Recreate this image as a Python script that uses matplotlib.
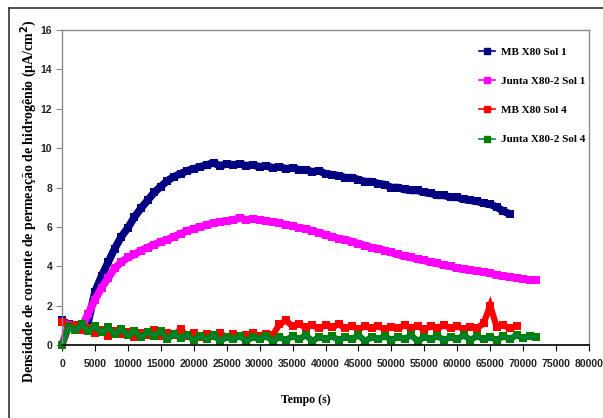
import matplotlib
matplotlib.use("Agg")
import matplotlib.pyplot as plt
from matplotlib.lines import Line2D

# ---------------- data ----------------
t_mb1 = list(range(0, 69000, 1000))
mb1 = [1.25, 1.05, 0.95, 0.85, 1.2, 2.7, 3.5, 4.2, 4.9, 5.5,
       5.95, 6.5, 6.95, 7.35, 7.75, 8.05, 8.35, 8.55, 8.7, 8.85,
       8.95, 9.05, 9.15, 9.25, 9.1, 9.2, 9.15, 9.2, 9.1, 9.15,
       9.05, 9.1, 9.0, 9.05, 8.95, 9.0, 8.9, 8.9, 8.8, 8.85,
       8.7, 8.65, 8.6, 8.5, 8.5, 8.4, 8.3, 8.3, 8.2, 8.15,
       8.0, 8.0, 7.9, 7.85, 7.85, 7.75, 7.7, 7.6, 7.6, 7.5,
       7.5, 7.4, 7.35, 7.3, 7.2, 7.15, 7.0, 6.8, 6.65]

t_j1 = list(range(0, 73000, 1000))
j1 = [0.0, 1.0, 0.8, 0.9, 1.6, 2.3, 2.9, 3.4, 3.9, 4.2,
      4.45, 4.6, 4.8, 4.95, 5.1, 5.25, 5.35, 5.5, 5.65, 5.8,
      5.9, 6.0, 6.1, 6.2, 6.25, 6.3, 6.35, 6.45, 6.35, 6.4,
      6.35, 6.3, 6.25, 6.2, 6.1, 6.05, 5.95, 5.9, 5.8, 5.7,
      5.6, 5.5, 5.4, 5.35, 5.25, 5.15, 5.05, 4.95, 4.9, 4.8,
      4.7, 4.6, 4.5, 4.45, 4.35, 4.3, 4.2, 4.15, 4.05, 4.0,
      3.9, 3.85, 3.8, 3.75, 3.7, 3.65, 3.55, 3.5, 3.45, 3.4,
      3.35, 3.3, 3.3]

t_mb4 = list(range(0, 70000, 1000))
mb4 = [1.15, 0.95, 1.0, 0.75, 0.85, 0.6, 0.75, 0.45, 0.7, 0.55,
       0.65, 0.4, 0.6, 0.5, 0.75, 0.45, 0.6, 0.5, 0.8, 0.45,
       0.6, 0.4, 0.55, 0.45, 0.6, 0.4, 0.55, 0.45, 0.5, 0.6,
       0.45, 0.55, 0.5, 1.05, 1.25, 0.95, 1.05, 0.9, 1.0, 0.85,
       1.0, 0.9, 1.05, 0.85, 0.95, 0.8, 0.95, 0.85, 0.95, 0.8,
       0.9, 0.85, 1.0, 0.85, 0.95, 0.8, 0.95, 0.85, 1.0, 0.85,
       0.95, 0.8, 0.9, 0.85, 1.1, 2.0, 0.9, 1.0, 0.85, 0.95]

t_j4 = list(range(0, 73000, 1000))
j4 = [0.0, 0.9, 0.75, 1.05, 0.7, 0.95, 0.65, 0.9, 0.55, 0.8,
      0.5, 0.7, 0.4, 0.65, 0.45, 0.7, 0.3, 0.55, 0.35, 0.5,
      0.25, 0.45, 0.3, 0.5, 0.2, 0.4, 0.3, 0.45, 0.2, 0.4,
      0.3, 0.45, 0.2, 0.4, 0.25, 0.45, 0.3, 0.5, 0.2, 0.4,
      0.3, 0.45, 0.25, 0.4, 0.3, 0.5, 0.2, 0.4, 0.3, 0.45,
      0.25, 0.4, 0.3, 0.5, 0.2, 0.4, 0.3, 0.45, 0.25, 0.4,
      0.3, 0.5, 0.25, 0.45, 0.3, 0.4, 0.25, 0.45, 0.3, 0.5,
      0.35, 0.45, 0.4]

labels = ["MB X80 Sol 1", "Junta X80-2 Sol 1", "MB X80 Sol 4", "Junta X80-2 Sol 4"]
x_ticks = list(range(0, 80001, 5000))
y_ticks = list(range(0, 17, 2))

# ---------------- figure ----------------
serif = ["Liberation Serif", "DejaVu Serif"]
sans = ["Liberation Sans", "DejaVu Sans"]

fig = plt.figure(figsize=(6.03, 4.18), dpi=100)
ax = fig.add_axes([62 / 603, 1 - 345 / 418, (589 - 62) / 603, (345 - 30) / 418])

# outer frame
fig.add_artist(Line2D([9 / 603, 1.0], [1 - 8 / 418] * 2, color="#333333", lw=1.2))
fig.add_artist(Line2D([9 / 603] * 2, [0.0, 1 - 8 / 418], color="#333333", lw=1.2))

series = [
    (t_mb1, mb1, "#000080", "#000080"),
    (t_j1, j1, "#FF00FF", "#FF00FF"),
    (t_mb4, mb4, "#FF0000", "#FF0000"),
    (t_j4, j4, "#008080", "#008000"),
]
for i, ((tt, yy, lc, mc), lab) in enumerate(zip(series, labels)):
    lw = 5.5 if i < 2 else 4.5
    ms = 6.0 if i < 2 else 5.5
    ax.plot(tt, yy, color=mc, lw=lw, marker="s", ms=ms, mfc=mc, mec=mc,
            mew=0, label=lab, clip_on=False, solid_joinstyle="miter",
            solid_capstyle="butt")
    if i == 3:
        ax.plot(tt, yy, color=lc, lw=0.8, clip_on=False)

ax.set_xlim(0, 80000)
ax.set_ylim(0, 16)
ax.set_xticks(x_ticks)
ax.set_yticks(y_ticks)

for s in ["top", "right", "left"]:
    ax.spines[s].set_color("#8a8a8a")
    ax.spines[s].set_linewidth(1.0)
ax.spines["bottom"].set_color("black")
ax.spines["bottom"].set_linewidth(1.2)
ax.spines["bottom"].set_zorder(5)

ax.tick_params(axis="y", direction="out", length=4, color="#8a8a8a", pad=3)
ax.tick_params(axis="x", direction="out", length=4, color="black", pad=6)
for lab in ax.get_xticklabels() + ax.get_yticklabels():
    lab.set_fontfamily(sans)
    lab.set_fontweight("bold")
    lab.set_fontsize(7.5)
    lab.set_color("#222222")

fig.text(29 / 603, 1 - 201 / 418,
         "Densidade de corrente de permeação de hidrogênio (μA/cm$^\\mathbf{2}$)",
         rotation=90, ha="center", va="center", fontsize=10,
         fontweight="bold", family=serif)
fig.text(306 / 603, 1 - 400 / 418, "Tempo (s)", ha="center", va="center",
         fontsize=8.5, fontweight="bold", family=serif)

handles = [Line2D([0], [0], color=lc, lw=1.2, marker="s", ms=4, mfc=mc, mec=mc)
           for (_, _, lc, mc) in series]
leg = ax.legend(handles, labels, loc="upper left", frameon=False,
                prop={"family": serif, "weight": "bold", "size": 8},
                labelspacing=1.75, handlelength=1.4, handletextpad=0.6)
leg.set_bbox_to_anchor(((469 - 62) / 527, (345 - 37) / 315), transform=ax.transAxes)

fig.savefig("out.png", dpi=100)
